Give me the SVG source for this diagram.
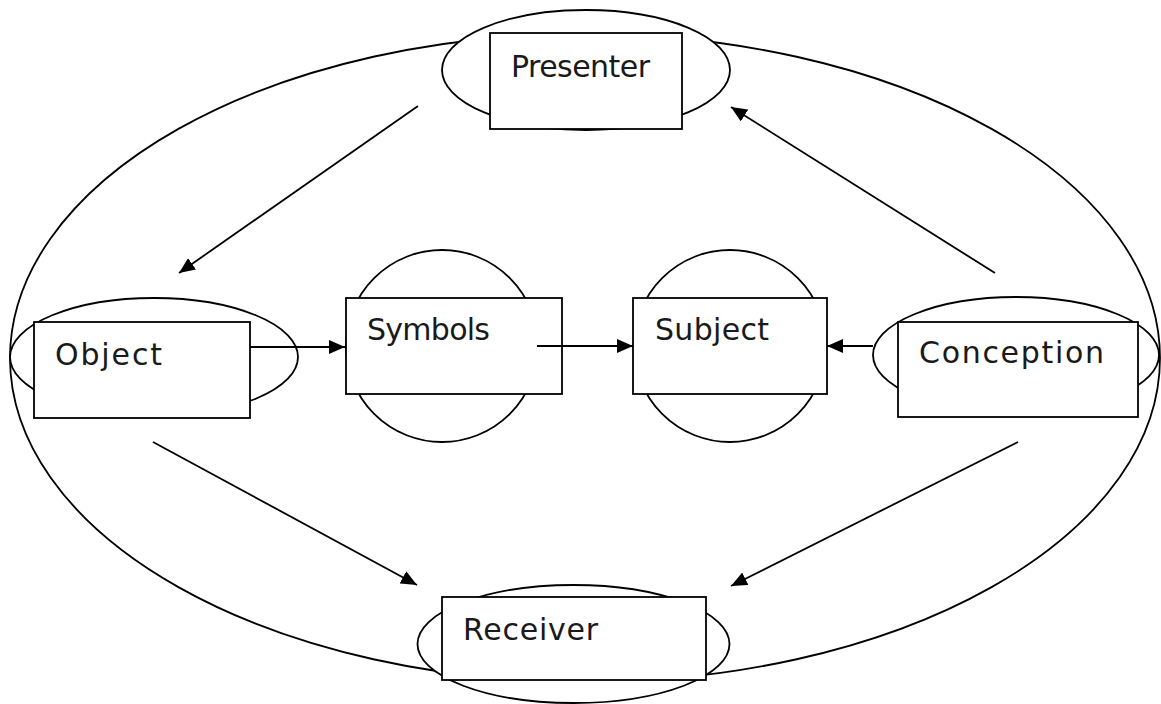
<svg xmlns="http://www.w3.org/2000/svg" width="1161" height="704" viewBox="0 0 1161 704">
  <style>
    .shape { fill: #ffffff; stroke: #000000; stroke-width: 1.8; }
    .outline { fill: none; stroke: #000000; stroke-width: 1.8; }
    .label { font-family: "DejaVu Sans", "Liberation Sans", sans-serif; font-size: 30px; fill: #1a1a1a; }
    .conn { fill: none; stroke: #000000; stroke-width: 1.8; marker-end: url(#head); }
  </style>
  <defs>
    <marker id="head" markerUnits="userSpaceOnUse" markerWidth="16" markerHeight="14" refX="16" refY="7" orient="auto">
      <path d="M0,0 L16,7 L0,14 Z" fill="#000000"/>
    </marker>
  </defs>
  <rect width="1161" height="704" fill="#ffffff"/>

  <!-- outer loop -->
  <ellipse class="outline" cx="585" cy="358" rx="575" ry="324"/>

  <g id="presenter">
    <ellipse class="shape" cx="586" cy="70" rx="144" ry="60"/>
    <rect class="shape" x="490" y="33" width="192" height="96"/>
    <text class="label" x="511" y="77" textLength="139">Presenter</text>
  </g>

  <g id="object">
    <ellipse class="shape" cx="154" cy="357" rx="144" ry="59"/>
    <rect class="shape" x="34" y="322" width="216" height="96"/>
    <text class="label" x="55" y="365" textLength="107">Object</text>
  </g>

  <g id="symbols">
    <circle class="shape" cx="442" cy="346" r="96"/>
    <rect class="shape" x="346" y="298" width="216" height="96"/>
    <text class="label" x="367" y="340" textLength="123">Symbols</text>
  </g>

  <g id="subject">
    <circle class="shape" cx="730" cy="346" r="96"/>
    <rect class="shape" x="633" y="298" width="194" height="96"/>
    <text class="label" x="655" y="340" textLength="114">Subject</text>
  </g>

  <g id="conception">
    <ellipse class="shape" cx="1016" cy="355" rx="143" ry="58"/>
    <rect class="shape" x="898" y="322" width="240" height="95"/>
    <text class="label" x="919" y="363" textLength="185">Conception</text>
  </g>

  <g id="receiver">
    <ellipse class="shape" cx="573.5" cy="644" rx="156" ry="59"/>
    <rect class="shape" x="442" y="597" width="264" height="83"/>
    <text class="label" x="463" y="640" textLength="135">Receiver</text>
  </g>

  <g id="connectors">
    <line class="conn" x1="418" y1="106" x2="179" y2="273"/>
    <line class="conn" x1="995" y1="273" x2="731" y2="107"/>
    <line class="conn" x1="250" y1="347" x2="345" y2="347"/>
    <line class="conn" x1="537" y1="346" x2="633" y2="346"/>
    <line class="conn" x1="873" y1="346" x2="827" y2="346"/>
    <line class="conn" x1="153" y1="442" x2="417" y2="585"/>
    <line class="conn" x1="1018" y1="442" x2="731" y2="586"/>
  </g>
</svg>
